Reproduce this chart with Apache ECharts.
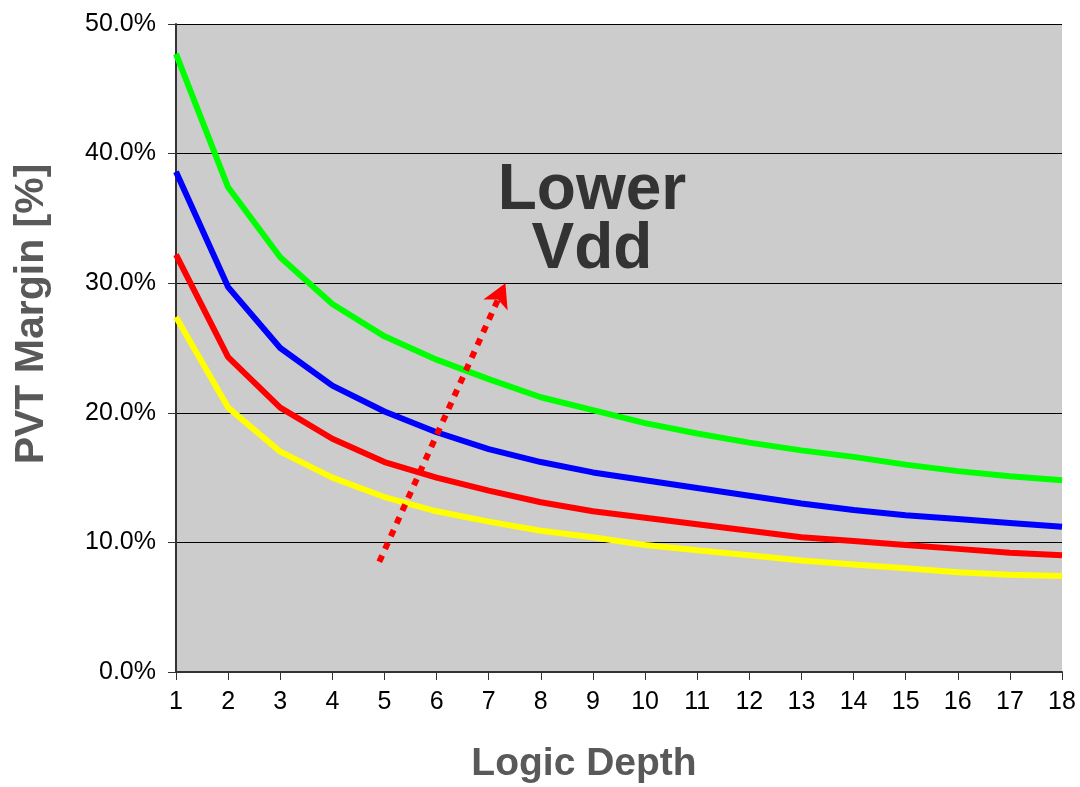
<!DOCTYPE html>
<html lang="en">
<head>
    <meta charset="UTF-8">
    <title>PVT Margin</title>
    <style>
        body, html {
            margin: 0;
            width: 100%;
            height: 100%;
            background: #fff;
        }
        #main {
            width: 1080px;
            height: 787px;
        }
    </style>
</head>
<body>
<div id="main"></div>
<script src="https://cdn.jsdelivr.net/npm/echarts@6/dist/echarts.min.js"></script>
<script>
    // logic depth 1..18
    let depths = [1, 2, 3, 4, 5, 6, 7, 8, 9, 10, 11, 12, 13, 14, 15, 16, 17, 18];

    // PVT margin in %, one curve per supply voltage
    let greenVals = [47.7, 37.4, 32.0, 28.4, 25.9, 24.1, 22.6, 21.2, 20.2, 19.2, 18.4, 17.7, 17.1, 16.6, 16.0, 15.5, 15.1, 14.8];
    let blueVals = [38.6, 29.7, 25.0, 22.1, 20.1, 18.5, 17.2, 16.2, 15.4, 14.8, 14.2, 13.6, 13.0, 12.5, 12.1, 11.8, 11.5, 11.2];
    let redVals = [32.2, 24.3, 20.4, 18.0, 16.2, 15.0, 14.0, 13.1, 12.4, 11.9, 11.4, 10.9, 10.4, 10.1, 9.8, 9.5, 9.2, 9.0];
    let yellowVals = [27.4, 20.4, 17.0, 15.0, 13.5, 12.4, 11.6, 10.9, 10.4, 9.8, 9.4, 9.0, 8.6, 8.3, 8.0, 7.7, 7.5, 7.4];

    // dotted arrow ("Lower Vdd" direction), [depth, margin]
    let arrowFrom = [4.9, 8.5];
    let arrowTo = [7.32, 30.0];

    let yTicks = [0, 10, 20, 30, 40, 50];

    function toPairs(vals) {
        let out = [];
        for (let i = 0; i < depths.length; i++) {
            out.push([depths[i], vals[i]]);
        }
        return out;
    }

    function lineSeries(name, color, vals) {
        return {
            name: name,
            type: 'line',
            data: toPairs(vals),
            symbol: 'none',
            smooth: false,
            lineStyle: {color: color, width: 6},
            itemStyle: {color: color},
            z: 3
        };
    }

    let myChart = echarts.init(document.getElementById('main'));
    let option = {
        animation: false,
        grid: {
            left: 176,
            right: 18,
            top: 24,
            bottom: 115,
            show: true,
            backgroundColor: '#cccccc',
            borderWidth: 0
        },
        xAxis: {
            type: 'value',
            min: 1,
            max: 18,
            interval: 1,
            axisLine: {show: true, lineStyle: {color: '#333', width: 2}},
            axisTick: {show: true, length: 8, lineStyle: {color: '#333', width: 1}},
            axisLabel: {
                margin: 18,
                fontFamily: 'Liberation Sans, Arial',
                fontSize: 25,
                color: '#000'
            },
            splitLine: {show: false}
        },
        yAxis: {
            type: 'value',
            min: yTicks[0],
            max: yTicks[yTicks.length - 1],
            interval: 10,
            axisLine: {show: true, lineStyle: {color: '#333', width: 2}},
            axisTick: {show: true, length: 8, lineStyle: {color: '#333', width: 1}},
            axisLabel: {
                margin: 20,
                fontFamily: 'Liberation Sans, Arial',
                fontSize: 25,
                color: '#000',
                formatter: function (v) {
                    return v.toFixed(1) + '%';
                }
            },
            splitLine: {show: true, lineStyle: {color: '#000', width: 1}}
        },
        series: [
            lineSeries('green', '#00ff00', greenVals),
            lineSeries('blue', '#0000ff', blueVals),
            lineSeries('red', '#ff0000', redVals),
            lineSeries('yellow', '#ffff00', yellowVals),
            {
                name: 'arrow',
                type: 'line',
                data: [],
                z: 5,
                markLine: {
                    silent: true,
                    symbol: ['none', 'arrow'],
                    symbolSize: [20, 24],
                    label: {show: false},
                    lineStyle: {color: '#ff0000', width: 6, type: [7, 7], cap: 'butt'},
                    data: [[{coord: arrowFrom}, {coord: arrowTo}]]
                }
            }
        ],
        graphic: [
            {
                type: 'text',
                x: 592,
                y: 221,
                z: 100,
                style: {
                    text: 'Lower\nVdd',
                    fill: '#333333',
                    font: 'bold 64px Liberation Sans, Arial',
                    align: 'center',
                    verticalAlign: 'middle',
                    lineHeight: 59
                }
            },
            {
                type: 'text',
                x: 584,
                y: 764,
                z: 100,
                style: {
                    text: 'Logic Depth',
                    fill: '#595959',
                    font: 'bold 39px Liberation Sans, Arial',
                    align: 'center',
                    verticalAlign: 'middle'
                }
            },
            {
                type: 'text',
                x: 32,
                y: 314,
                rotation: Math.PI / 2,
                z: 100,
                style: {
                    text: 'PVT Margin [%]',
                    fill: '#595959',
                    font: 'bold 41px Liberation Sans, Arial',
                    align: 'center',
                    verticalAlign: 'middle'
                }
            }
        ]
    };

    myChart.setOption(option);
</script>
</body>
</html>
